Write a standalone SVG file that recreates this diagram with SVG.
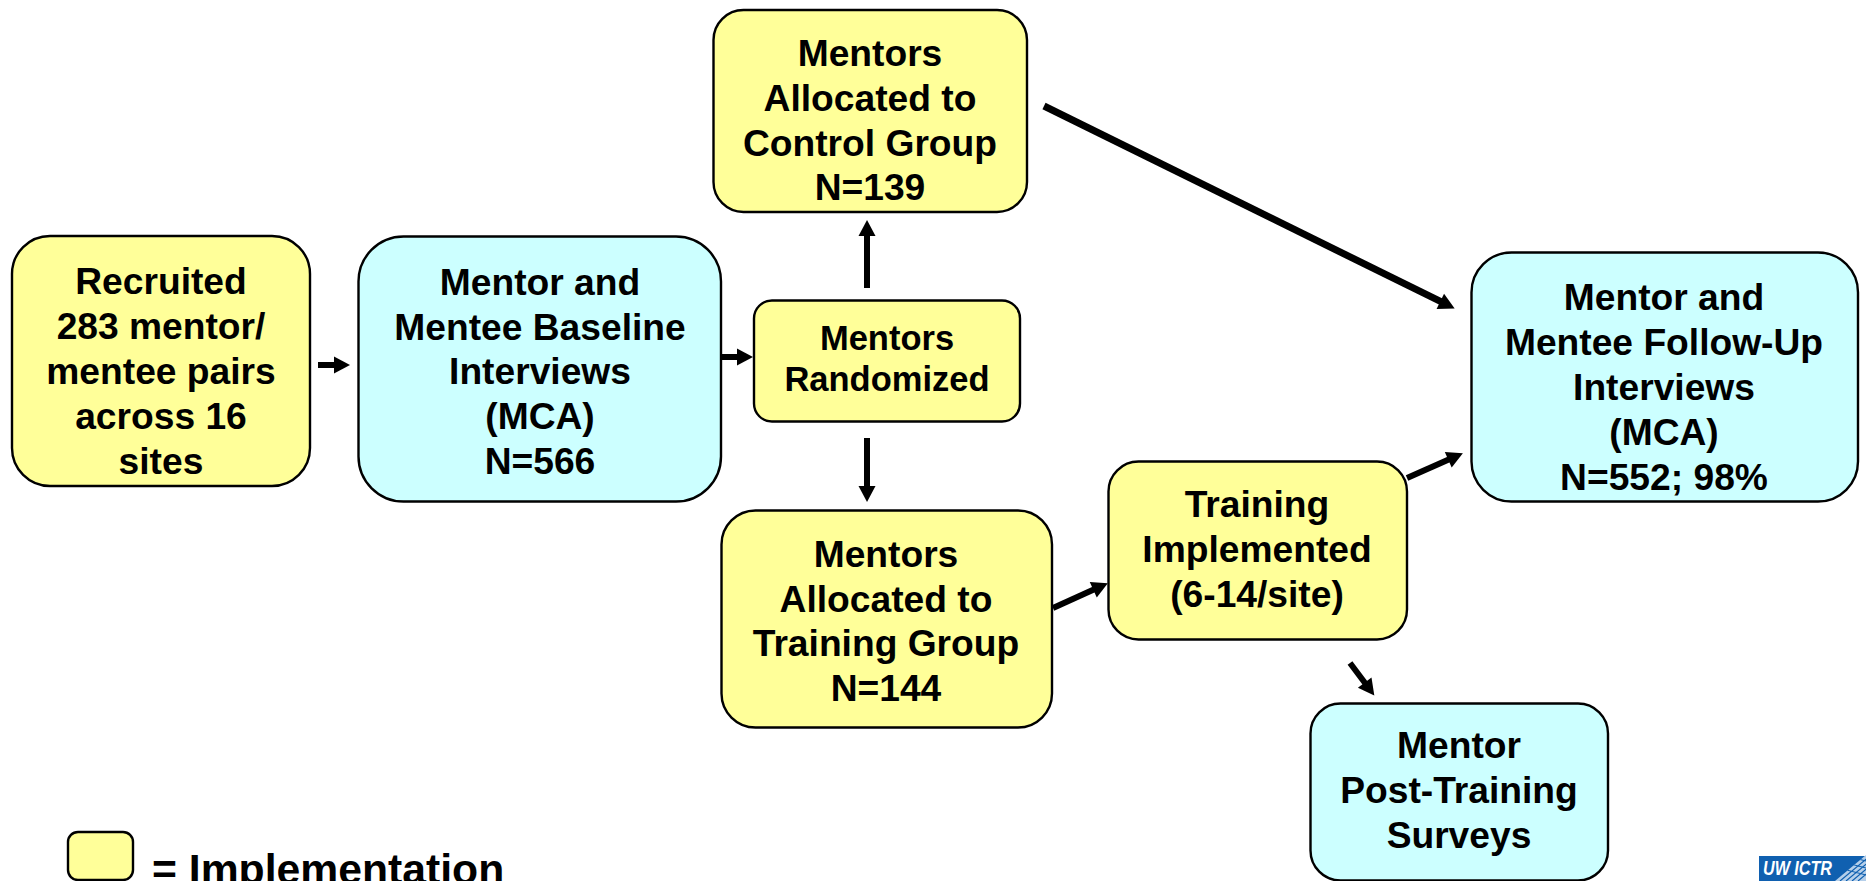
<svg xmlns="http://www.w3.org/2000/svg" width="1866" height="881" viewBox="0 0 1866 881">
<style>
.y{fill:#ffff99;stroke:#000;stroke-width:2.4}
.c{fill:#ccffff;stroke:#000;stroke-width:2.4}
text{font-family:"Liberation Sans",Arial,sans-serif;font-weight:bold;font-size:37.2px;fill:#000;text-anchor:middle}
.s{font-size:34.5px}
.a{stroke:#000;stroke-width:6;fill:none;marker-end:url(#h)}
.a2{stroke:#000;stroke-width:7;fill:none;marker-end:url(#h)}
</style>
<defs>
<marker id="h" markerUnits="userSpaceOnUse" markerWidth="18" markerHeight="18" refX="4" refY="9" orient="auto"><path d="M1 .5L17 9L1 17.5Z" fill="#000"/></marker>
<clipPath id="mesh"><path d="M1835 881L1866 855V881Z"/></clipPath>
</defs>
<rect width="1866" height="881" fill="#fff"/>
<g id="connectors">
<path class="a" d="M318 365H337"/>
<path class="a" d="M721 357H740"/>
<path class="a" d="M867 288V233"/>
<path class="a" d="M867 438V489"/>
<path class="a" d="M1053 608L1096 588.5"/>
<path class="a" d="M1407 478L1451 458.5"/>
<path class="a" d="M1350 663L1366.5 685"/>
<path class="a2" d="M1044 106L1443 302.7"/>
</g>
<g id="recruited"><rect class="y" x="12" y="236" width="298" height="250" rx="38"/>
<text x="161" y="294">Recruited</text><text x="161" y="339">283 mentor/</text><text x="161" y="384">mentee pairs</text><text x="161" y="429">across 16</text><text x="161" y="474">sites</text></g>
<g id="baseline"><rect class="c" x="358.500" y="236.500" width="362.500" height="265" rx="45"/>
<text x="540" y="295">Mentor and</text><text x="540" y="340">Mentee Baseline</text><text x="540" y="384">Interviews</text><text x="540" y="429">(MCA)</text><text x="540" y="474">N=566</text></g>
<g id="randomized"><rect class="y" x="754" y="300.500" width="266" height="121" rx="18"/>
<text class="s" x="887" y="350">Mentors</text><text class="s" x="887" y="391">Randomized</text></g>
<g id="control"><rect class="y" x="713.500" y="10" width="313.500" height="202" rx="30"/>
<text x="870" y="66">Mentors</text><text x="870" y="111">Allocated to</text><text x="870" y="156">Control Group</text><text x="870" y="200">N=139</text></g>
<g id="training-group"><rect class="y" x="721.500" y="510.500" width="330.500" height="217" rx="34"/>
<text x="886" y="567">Mentors</text><text x="886" y="612">Allocated to</text><text x="886" y="656">Training Group</text><text x="886" y="701">N=144</text></g>
<g id="training"><rect class="y" x="1108.500" y="461.500" width="298.500" height="178" rx="30"/>
<text x="1257" y="517">Training</text><text x="1257" y="562">Implemented</text><text x="1257" y="607">(6-14/site)</text></g>
<g id="followup"><rect class="c" x="1471.500" y="252.500" width="386.500" height="249" rx="40"/>
<text x="1664" y="310">Mentor and</text><text x="1664" y="355">Mentee Follow-Up</text><text x="1664" y="400">Interviews</text><text x="1664" y="445">(MCA)</text><text x="1664" y="490">N=552; 98%</text></g>
<g id="post"><rect class="c" x="1310.500" y="703.500" width="297.500" height="177" rx="30"/>
<text x="1459" y="758">Mentor</text><text x="1459" y="803">Post-Training</text><text x="1459" y="848">Surveys</text></g>
<g id="legend"><rect class="y" x="68" y="832" width="65" height="48" rx="10"/>
<text x="152" y="884" style="text-anchor:start;font-size:42.7px">= Implementation</text></g>
<g id="logo"><rect x="1759" y="856" width="107" height="25" fill="#1060b0"/>
<text x="1763" y="875" textLength="69" lengthAdjust="spacingAndGlyphs" style="text-anchor:start;font-size:21px;font-style:italic;fill:#fff">UW ICTR</text>
<g clip-path="url(#mesh)"><rect x="1835" y="855" width="31" height="26" fill="#b5cfea"/>
<path d="M1840 881L1871 855M1846 881L1877 855M1852 881L1883 855M1858 881L1889 855M1835 867L1866 875M1835 860L1866 868M1835 853L1866 861" stroke="#1060b0" stroke-width="1.2" fill="none"/></g></g>
</svg>
